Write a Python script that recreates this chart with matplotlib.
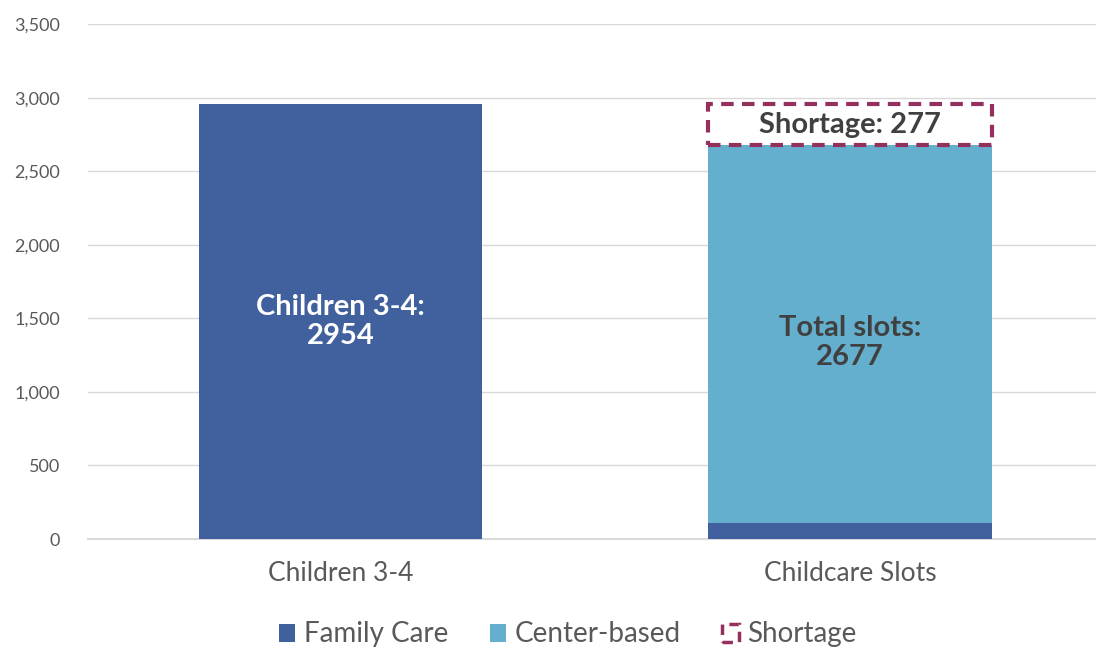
import matplotlib
matplotlib.use("Agg")
import matplotlib.pyplot as plt
from matplotlib.patches import Patch

# Data
categories = ["Children 3-4", "Childcare Slots"]
family_care = [2954, 110]
center_based = [0, 2567]
shortage = [0, 277]

plt.rcParams['font.family'] = ['Lato', 'DejaVu Sans']

dark_blue = "#41609E"
light_blue = "#65AFCE"
plum = "#93305E"
text_gray = "#595959"

fig = plt.figure(figsize=(10.96, 6.51), dpi=100)
ax = fig.add_axes([0.08, 0.172, 0.92, 0.791])

x = list(range(len(categories)))
width = 0.556

ax.bar(x, family_care, width, color=dark_blue, zorder=3)
ax.bar(x, center_based, width, bottom=family_care, color=light_blue, zorder=3)

# Shortage box on the slots bar
totals = [f + c for f, c in zip(family_care, center_based)]
ax.bar(x[1], shortage[1], width, bottom=totals[1], fill=False,
       edgecolor=plum, linestyle=(0, (3, 2)), linewidth=3, zorder=4)

# Labels inside bars
ax.text(x[0], family_care[0] / 2, f"Children 3-4:\n{family_care[0]}",
        ha='center', va='center', color='white', fontsize=21,
        fontweight='bold', linespacing=1.15, zorder=5)
ax.text(x[1], totals[1] / 2, f"Total slots:\n{totals[1]}",
        ha='center', va='center', color="#404040", fontsize=21,
        fontweight='bold', linespacing=1.15, zorder=5)
ax.text(x[1], totals[1] + shortage[1] / 2, f"Shortage: {shortage[1]}",
        ha='center', va='center', color="#404040", fontsize=21,
        fontweight='bold', zorder=5)

# Axes styling
ax.set_xlim(-0.497, 1.483)
ax.set_ylim(0, 3500)
ax.set_yticks(range(0, 3501, 500))
ax.set_yticklabels([f"{v:,}" for v in range(0, 3501, 500)])
ax.set_xticks(x)
ax.set_xticklabels(categories)
ax.tick_params(axis='y', length=0, labelsize=13, labelcolor=text_gray, pad=20)
ax.tick_params(axis='x', length=0, labelsize=19, labelcolor=text_gray, pad=16)
ax.grid(axis='y', color="#D9D9D9", linewidth=1, zorder=0)
for side in ['top', 'right', 'left']:
    ax.spines[side].set_visible(False)
ax.spines['bottom'].set_color("#D9D9D9")
ax.spines['bottom'].set_linewidth(1.5)

# Legend
handles = [
    Patch(facecolor=dark_blue, label="Family Care"),
    Patch(facecolor=light_blue, label="Center-based"),
    Patch(facecolor='none', edgecolor=plum, linestyle=(0, (3, 2)),
          linewidth=2.5, label="Shortage"),
]
leg = fig.legend(handles=handles, loc='lower center', ncol=3, frameon=False,
                 bbox_to_anchor=(0.518, -0.033), fontsize=20, handlelength=0.6,
                 handleheight=0.6, handletextpad=0.3, columnspacing=1.5)
for t in leg.get_texts():
    t.set_color(text_gray)

fig.savefig("out.png", dpi=100)
